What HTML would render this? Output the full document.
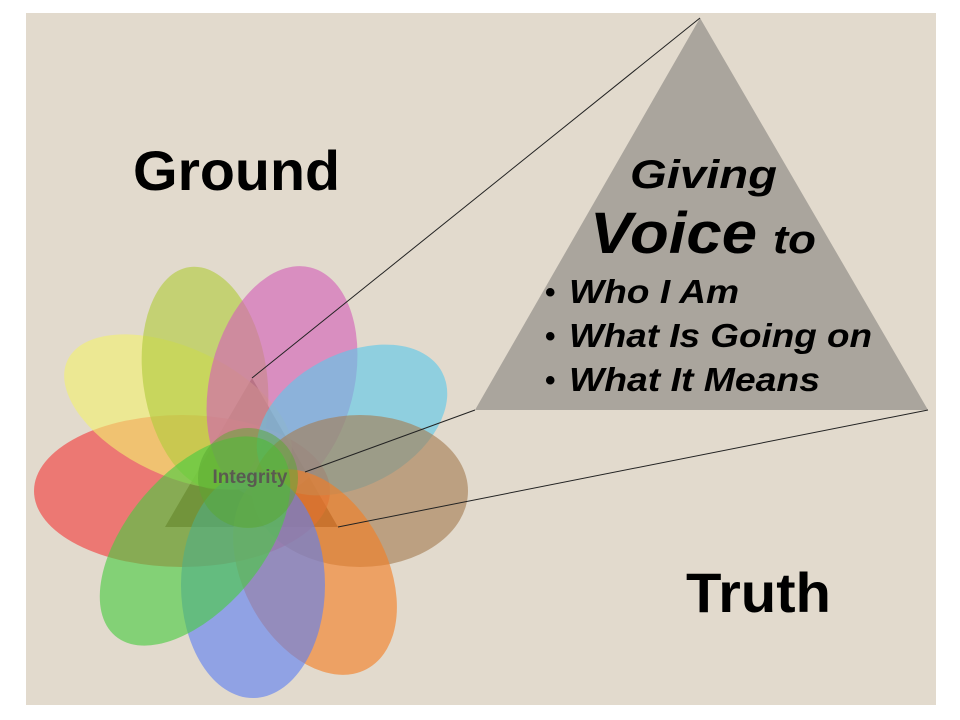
<!DOCTYPE html>
<html><head><meta charset="utf-8"><style>
html,body{margin:0;padding:0;background:#fff;}
svg{display:block}
</style></head><body>
<svg width="960" height="720" viewBox="0 0 960 720" xmlns="http://www.w3.org/2000/svg">
<rect x="0" y="0" width="960" height="720" fill="#fff"/>
<rect x="26" y="13" width="910" height="692" fill="#e2dacd"/>

<polygon points="700,18 475,410 928,410" fill="#aaa59d"/>

<polygon points="252,378 165,527 338,527" fill="#3a2008" opacity="0.85"/>

<g fill-opacity="0.62">
<ellipse cx="182" cy="491" rx="148" ry="76" fill="#f23c3c"/>
<ellipse cx="178" cy="412" rx="122" ry="64" transform="rotate(25 178 412)" fill="#f2f070"/>
<ellipse cx="205" cy="378" rx="62" ry="112" transform="rotate(-8 205 378)" fill="#b2cc3c"/>
<ellipse cx="282" cy="382" rx="72" ry="118" transform="rotate(14 282 382)" fill="#d460b8"/>
<ellipse cx="352" cy="420" rx="102" ry="66" transform="rotate(-28 352 420)" fill="#5cc8ea"/>
<ellipse cx="360" cy="491" rx="108" ry="76" fill="#a47c52"/>
<ellipse cx="315" cy="572" rx="72" ry="110" transform="rotate(-28 315 572)" fill="#f47e24"/>
<ellipse cx="253" cy="585" rx="72" ry="113" fill="#5e80f2"/>
<ellipse cx="195" cy="541" rx="68" ry="124" transform="rotate(40 195 541)" fill="#48cc40"/>
</g>
<circle cx="248" cy="478" r="50" fill="#5aa830" fill-opacity="0.5"/>
<text x="250" y="483" font-family="Liberation Sans, sans-serif" font-weight="bold" font-size="19" fill="#5a5a50" text-anchor="middle">Integrity</text>

<g stroke="#222" stroke-width="1" fill="none">
<line x1="700" y1="18" x2="252" y2="378"/>
<line x1="475" y1="410" x2="305" y2="472"/>
<line x1="928" y1="410" x2="338" y2="527"/>
</g>

<g font-family="Liberation Sans, sans-serif" font-weight="bold" fill="#000">
<text x="133" y="190" font-size="56" textLength="207" lengthAdjust="spacingAndGlyphs">Ground</text>
<text x="686" y="612" font-size="56" textLength="145" lengthAdjust="spacingAndGlyphs">Truth</text>
<g font-style="italic">
<text x="630" y="188" font-size="40" textLength="147" lengthAdjust="spacingAndGlyphs">Giving</text>
<text x="590" y="253" font-size="58" textLength="167" lengthAdjust="spacingAndGlyphs">Voice</text>
<text x="773" y="253" font-size="40" textLength="43" lengthAdjust="spacingAndGlyphs">to</text>
<text x="569" y="303" font-size="33" textLength="170" lengthAdjust="spacingAndGlyphs">Who I Am</text>
<text x="569" y="347" font-size="33" textLength="303" lengthAdjust="spacingAndGlyphs">What Is Going on</text>
<text x="569" y="391" font-size="33" textLength="251" lengthAdjust="spacingAndGlyphs">What It Means</text>
</g>
<text x="545" y="302" font-size="30">•</text>
<text x="545" y="346" font-size="30">•</text>
<text x="545" y="390" font-size="30">•</text>
</g>
</svg>
</body></html>
